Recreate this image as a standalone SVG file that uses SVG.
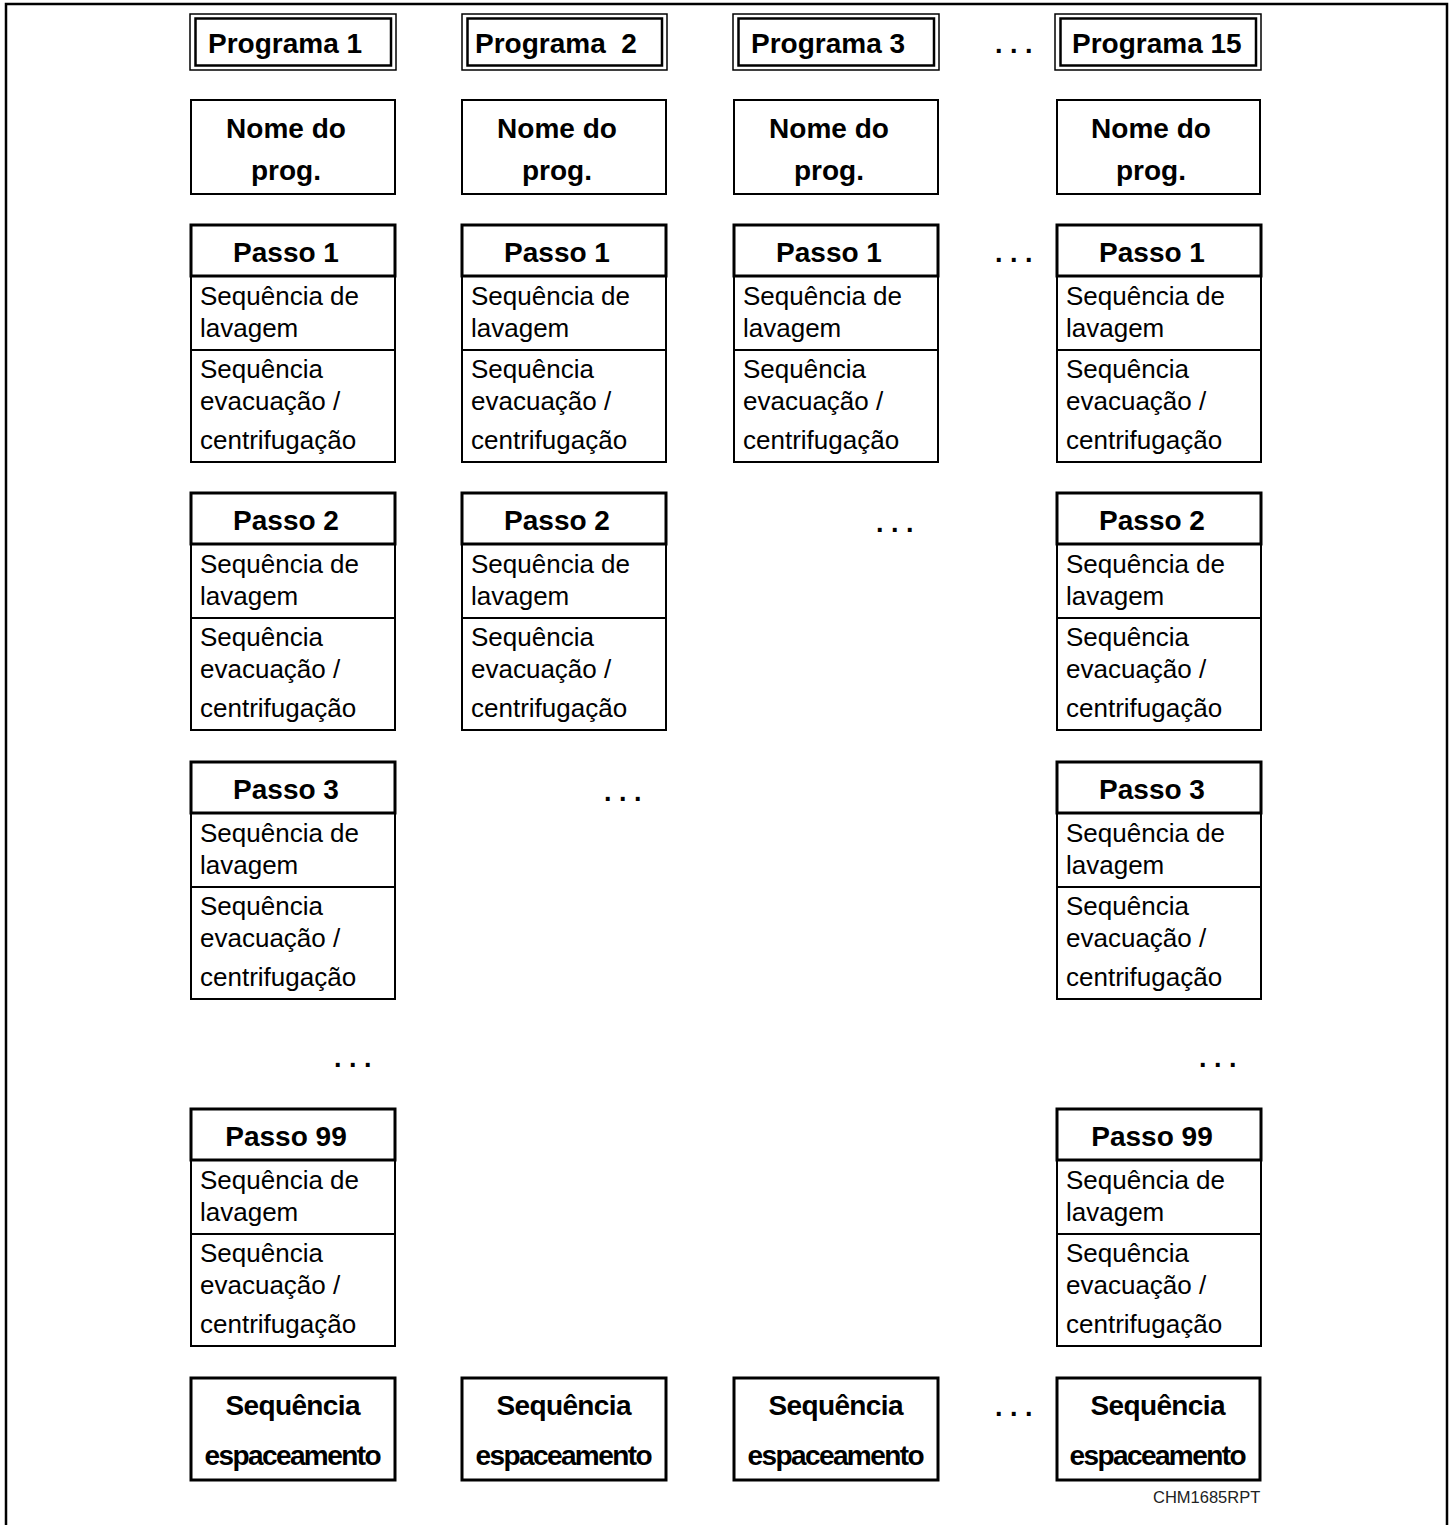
<svg xmlns="http://www.w3.org/2000/svg" width="1453" height="1525" viewBox="0 0 1453 1525">
<style>
.b{fill:none;stroke:#000;stroke-width:2}
.h{fill:none;stroke:#000;stroke-width:3}
.o{fill:none;stroke:#000;stroke-width:1.5}
.i{fill:none;stroke:#000;stroke-width:2.5}
.t{font-family:"Liberation Sans",Arial,sans-serif;font-size:26px;fill:#000}
.tb{font-family:"Liberation Sans",Arial,sans-serif;font-size:28px;font-weight:bold;fill:#000}
.c{text-anchor:middle}
.d{font-family:"Liberation Sans",Arial,sans-serif;font-size:27px;font-weight:bold;fill:#000}
</style>
<rect width="1453" height="1525" fill="#fff"/>
<path d="M6,1525 V4 H1447 V1525" fill="none" stroke="#000" stroke-width="2.5"/>

<!-- Programa headers -->
<g id="prog1"><rect class="o" x="190" y="14" width="206" height="56"/><rect class="i" x="195.5" y="18.5" width="195.5" height="47"/><text class="tb" x="208" y="53">Programa 1</text></g>
<g id="prog2"><rect class="o" x="462" y="14" width="205" height="56"/><rect class="i" x="467.5" y="18.5" width="194.5" height="47"/><text class="tb" x="475" y="53" xml:space="preserve">Programa  2</text></g>
<g id="prog3"><rect class="o" x="733" y="14" width="206" height="56"/><rect class="i" x="738.5" y="18.5" width="195.5" height="47"/><text class="tb" x="751" y="53">Programa 3</text></g>
<g id="prog15"><rect class="o" x="1055" y="14" width="206" height="56"/><rect class="i" x="1060.5" y="18.5" width="195.5" height="47"/><text class="tb" x="1072" y="53">Programa 15</text></g>

<!-- Nome do prog -->
<g id="nome1"><rect class="b" x="191" y="100" width="204" height="94"/><text class="tb c" x="286" y="138">Nome do</text><text class="tb c" x="286" y="180">prog.</text></g>
<g id="nome2"><rect class="b" x="462" y="100" width="204" height="94"/><text class="tb c" x="557" y="138">Nome do</text><text class="tb c" x="557" y="180">prog.</text></g>
<g id="nome3"><rect class="b" x="734" y="100" width="204" height="94"/><text class="tb c" x="829" y="138">Nome do</text><text class="tb c" x="829" y="180">prog.</text></g>
<g id="nome15"><rect class="b" x="1057" y="100" width="203" height="94"/><text class="tb c" x="1151" y="138">Nome do</text><text class="tb c" x="1151" y="180">prog.</text></g>

<defs>
<g id="passoBody">
<rect class="b" x="0" y="51" width="204" height="186"/>
<line class="b" x1="0" y1="125" x2="204" y2="125"/>
<rect class="h" x="0" y="0" width="204" height="51"/>
<text class="t" x="9" y="80">Sequência de</text>
<text class="t" x="9" y="112">lavagem</text>
<text class="t" x="9" y="153">Sequência</text>
<text class="t" x="9" y="185">evacuação /</text>
<text class="t" x="9" y="224">centrifugação</text>
</g>
</defs>

<!-- Passo 1 -->
<g id="p1c1" transform="translate(191,225)"><use href="#passoBody"/><text class="tb c" x="95" y="37">Passo 1</text></g>
<g id="p1c2" transform="translate(462,225)"><use href="#passoBody"/><text class="tb c" x="95" y="37">Passo 1</text></g>
<g id="p1c3" transform="translate(734,225)"><use href="#passoBody"/><text class="tb c" x="95" y="37">Passo 1</text></g>
<g id="p1c15" transform="translate(1057,225)"><use href="#passoBody"/><text class="tb c" x="95" y="37">Passo 1</text></g>

<!-- Passo 2 -->
<g id="p2c1" transform="translate(191,493)"><use href="#passoBody"/><text class="tb c" x="95" y="37">Passo 2</text></g>
<g id="p2c2" transform="translate(462,493)"><use href="#passoBody"/><text class="tb c" x="95" y="37">Passo 2</text></g>
<g id="p2c15" transform="translate(1057,493)"><use href="#passoBody"/><text class="tb c" x="95" y="37">Passo 2</text></g>

<!-- Passo 3 -->
<g id="p3c1" transform="translate(191,762)"><use href="#passoBody"/><text class="tb c" x="95" y="37">Passo 3</text></g>
<g id="p3c15" transform="translate(1057,762)"><use href="#passoBody"/><text class="tb c" x="95" y="37">Passo 3</text></g>

<!-- Passo 99 -->
<g id="p99c1" transform="translate(191,1109)"><use href="#passoBody"/><text class="tb c" x="95" y="37">Passo 99</text></g>
<g id="p99c15" transform="translate(1057,1109)"><use href="#passoBody"/><text class="tb c" x="95" y="37">Passo 99</text></g>

<!-- Sequencia espaceamento -->
<g id="esp1"><rect class="h" x="191" y="1378" width="204" height="102"/><text class="tb c" x="293" y="1415" textLength="135">Sequência</text><text class="tb c" x="293" y="1465" textLength="177">espaceamento</text></g>
<g id="esp2"><rect class="h" x="462" y="1378" width="204" height="102"/><text class="tb c" x="564" y="1415" textLength="135">Sequência</text><text class="tb c" x="564" y="1465" textLength="177">espaceamento</text></g>
<g id="esp3"><rect class="h" x="734" y="1378" width="204" height="102"/><text class="tb c" x="836" y="1415" textLength="135">Sequência</text><text class="tb c" x="836" y="1465" textLength="177">espaceamento</text></g>
<g id="esp15"><rect class="h" x="1057" y="1378" width="203" height="102"/><text class="tb c" x="1158" y="1415" textLength="135">Sequência</text><text class="tb c" x="1158" y="1465" textLength="177">espaceamento</text></g>

<!-- ellipses -->
<g id="dots">
<text class="d" x="995" y="53">. . .</text>
<text class="d" x="995" y="262">. . .</text>
<text class="d" x="876" y="532">. . .</text>
<text class="d" x="604" y="801">. . .</text>
<text class="d" x="334" y="1067">. . .</text>
<text class="d" x="1199" y="1067">. . .</text>
<text class="d" x="995" y="1416">. . .</text>
</g>

<g id="connectors"></g>

<text x="1153" y="1503" font-family="Liberation Sans,Arial,sans-serif" font-size="16.5" fill="#222">CHM1685RPT</text>
</svg>
